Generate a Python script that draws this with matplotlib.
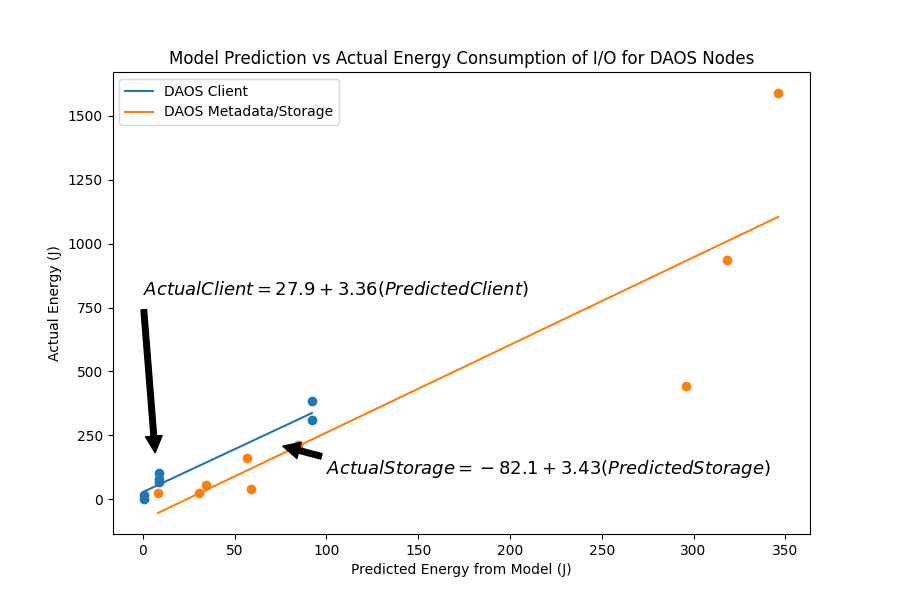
import matplotlib
matplotlib.use("Agg")
import matplotlib.pyplot as plt
import numpy as np

# Predicted vs actual energy (J)
client_pred = [0.7, 0.7, 8.7, 8.7, 8.7, 92.1, 92.1]
client_actual = [18, 0, 67, 81, 103, 384, 309]
storage_pred = [8.2, 30.5, 34.4, 56.7, 58.9, 84.5, 296.0, 318.4, 346.2]
storage_actual = [23, 23, 55, 160, 39, 211, 443, 936, 1590]

# Fit coefficients (intercept, slope) as printed on the chart
client_fit = (27.9, 3.36)
storage_fit = (-82.1, 3.43)

fig = plt.figure(figsize=(9, 6), dpi=100)
ax = plt.axes()
fig.subplots_adjust(left=0.125, right=0.9, top=0.88, bottom=0.11)

ax.scatter(client_pred, client_actual, color="C0")
ax.scatter(storage_pred, storage_actual, color="C1")

xc = np.array([min(client_pred), max(client_pred)])
xs = np.array([min(storage_pred), max(storage_pred)])
ax.plot(xc, client_fit[0] + client_fit[1] * xc, color="C0", label="DAOS Client")
ax.plot(xs, storage_fit[0] + storage_fit[1] * xs, color="C1", label="DAOS Metadata/Storage")

ax.annotate(r"$ActualClient = 27.9 + 3.36(PredictedClient)$",
            xy=(7, 150), xytext=(0, 800), fontsize=13,
            arrowprops=dict(facecolor="black", shrink=0.05))
ax.annotate(r"$ActualStorage = {} - 82.1 + 3.43(PredictedStorage)$",
            xy=(75, 210), xytext=(100, 100), fontsize=13,
            arrowprops=dict(facecolor="black", shrink=0.05))

ax.set_title("Model Prediction vs Actual Energy Consumption of I/O for DAOS Nodes")
ax.set_xlabel("Predicted Energy from Model (J)")
ax.set_ylabel("Actual Energy (J)")
ax.legend(loc="upper left")

fig.savefig("out.png", dpi=100)
